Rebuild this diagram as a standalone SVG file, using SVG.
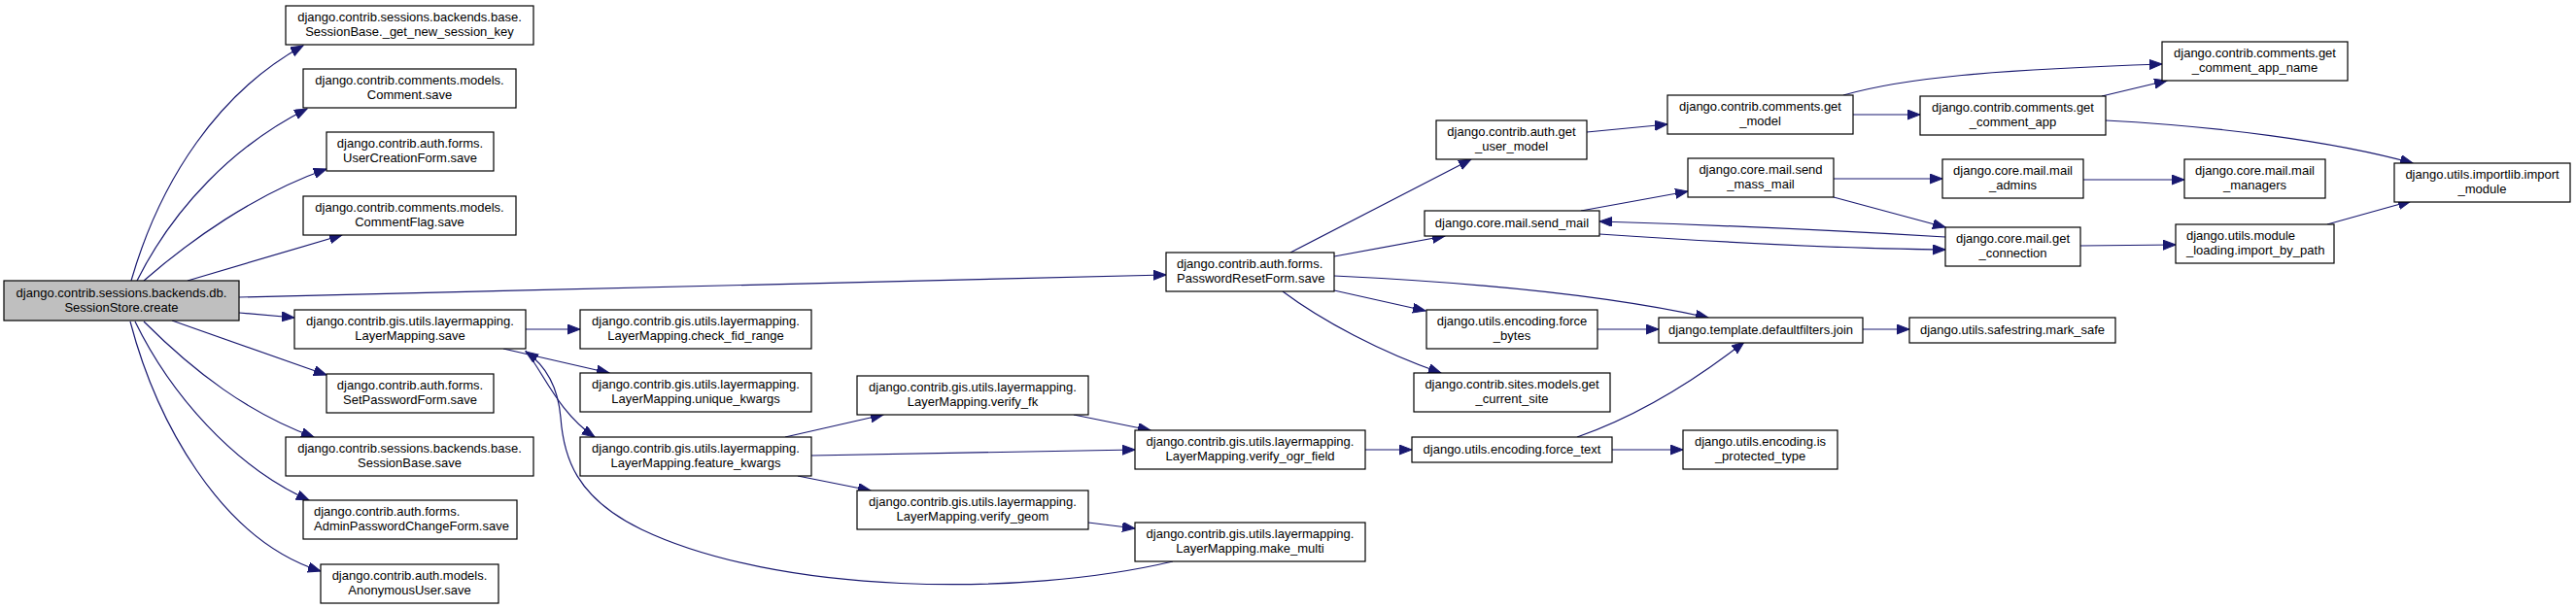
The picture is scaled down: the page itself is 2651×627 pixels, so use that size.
<svg xmlns="http://www.w3.org/2000/svg" width="2651" height="627" viewBox="0 0 2651 627">
<style>
.n rect{fill:#fff;stroke:#000;stroke-width:1.2}
.root rect{fill:#bfbfbf}
text{font-family:"Liberation Sans",Arial,sans-serif;font-size:13px;fill:#000}
.c{text-anchor:middle}
.e path{fill:none;stroke:#191970;stroke-width:1.2;marker-end:url(#ah)}
</style>
<defs>
<marker id="ah" markerUnits="userSpaceOnUse" markerWidth="14" markerHeight="11" refX="13" refY="5" orient="auto">
<path d="M0,0 L13,5 L0,10 z" fill="#191970" stroke="#191970" stroke-width="1"/>
</marker>
</defs>
<rect width="2651" height="627" fill="#fff"/>
<g class="e" id="edges">
<path d="M135,289 C165,185 225,95 312,47"/>
<path d="M141,289 C178,215 240,150 316,112"/>
<path d="M148,289 C195,248 262,200 336,174"/>
<path d="M193,289 L352,242"/>
<path d="M246,306 C600,296 900,288 1200,283"/>
<path d="M246,322 L303,327"/>
<path d="M177,330 L336,386"/>
<path d="M148,331 C200,383 255,425 323,450"/>
<path d="M139,331 C175,405 240,480 318,515"/>
<path d="M134,331 C160,430 225,555 330,588"/>
<path d="M541,339 L597,339"/>
<path d="M518,359 L627,384"/>
<path d="M541,361 C560,385 575,425 612,450"/>
<path d="M1207,578 C1050,615 800,612 660,545 C592,512 580,470 577,430 C574,395 560,375 541,362"/>
<path d="M808,450 L909,427"/>
<path d="M835,469 L1168,463"/>
<path d="M821,490 L896,505"/>
<path d="M1105,427 L1184,443"/>
<path d="M1120,538 L1168,544"/>
<path d="M1405,463 L1453,463"/>
<path d="M1328,260 L1514,164"/>
<path d="M1373,264 L1487,243"/>
<path d="M1373,284 C1500,290 1650,303 1758,327"/>
<path d="M1373,299 L1467,320"/>
<path d="M1320,300 C1360,330 1420,362 1483,384"/>
<path d="M1633,136 L1716,128"/>
<path d="M1907,118 L1976,118"/>
<path d="M1897,98 C1960,80 2050,72 2225,66"/>
<path d="M2163,99 L2230,83"/>
<path d="M2167,124 C2280,130 2400,145 2483,168"/>
<path d="M1627,217 L1737,197"/>
<path d="M1646,241 C1780,250 1900,256 2002,257"/>
<path d="M2002,244 C1900,238 1780,232 1646,228"/>
<path d="M1887,184 L1999,184"/>
<path d="M1887,203 L2002,234"/>
<path d="M2144,185 L2248,185"/>
<path d="M2141,253 L2239,252"/>
<path d="M2395,231 L2481,207"/>
<path d="M1644,339 L1707,339"/>
<path d="M1623,450 C1680,430 1740,395 1795,352"/>
<path d="M1659,463 L1732,463"/>
<path d="M1917,339 L1965,339"/>
</g>
<g class="n root" id="root"><rect x="4" y="289" width="242" height="41"/><text class="c" x="125" y="306">django.contrib.sessions.backends.db.</text><text class="c" x="125" y="321">SessionStore.create</text></g>
<g class="n" id="n_get_new_session_key"><rect x="294" y="6" width="255" height="40"/><text class="c" x="421.5" y="22">django.contrib.sessions.backends.base.</text><text class="c" x="421.5" y="37">SessionBase._get_new_session_key</text></g>
<g class="n" id="n_comment_save"><rect x="312" y="71" width="219" height="40"/><text class="c" x="421.5" y="87">django.contrib.comments.models.</text><text class="c" x="421.5" y="102">Comment.save</text></g>
<g class="n" id="n_usercreation"><rect x="336" y="136" width="172" height="40"/><text class="c" x="422" y="152">django.contrib.auth.forms.</text><text class="c" x="422" y="167">UserCreationForm.save</text></g>
<g class="n" id="n_commentflag"><rect x="312" y="202" width="219" height="40"/><text class="c" x="421.5" y="218">django.contrib.comments.models.</text><text class="c" x="421.5" y="233">CommentFlag.save</text></g>
<g class="n" id="n_lm_save"><rect x="303" y="319" width="238" height="40"/><text class="c" x="422" y="335">django.contrib.gis.utils.layermapping.</text><text class="c" x="422" y="350">LayerMapping.save</text></g>
<g class="n" id="n_setpassword"><rect x="336" y="385" width="172" height="40"/><text class="c" x="422" y="401">django.contrib.auth.forms.</text><text class="c" x="422" y="416">SetPasswordForm.save</text></g>
<g class="n" id="n_sessionbase_save"><rect x="294" y="450" width="255" height="40"/><text class="c" x="421.5" y="466">django.contrib.sessions.backends.base.</text><text class="c" x="421.5" y="481">SessionBase.save</text></g>
<g class="n" id="n_adminpassword"><rect x="312" y="515" width="220" height="40"/><text x="323" y="531">django.contrib.auth.forms.</text><text x="323" y="546">AdminPasswordChangeForm.save</text></g>
<g class="n" id="n_anonymous"><rect x="330" y="581" width="183" height="40"/><text class="c" x="421.5" y="597">django.contrib.auth.models.</text><text class="c" x="421.5" y="612">AnonymousUser.save</text></g>
<g class="n" id="n_check_fid_range"><rect x="597" y="319" width="238" height="40"/><text class="c" x="716" y="335">django.contrib.gis.utils.layermapping.</text><text class="c" x="716" y="350">LayerMapping.check_fid_range</text></g>
<g class="n" id="n_unique_kwargs"><rect x="597" y="384" width="238" height="40"/><text class="c" x="716" y="400">django.contrib.gis.utils.layermapping.</text><text class="c" x="716" y="415">LayerMapping.unique_kwargs</text></g>
<g class="n" id="n_feature_kwargs"><rect x="597" y="450" width="238" height="40"/><text class="c" x="716" y="466">django.contrib.gis.utils.layermapping.</text><text class="c" x="716" y="481">LayerMapping.feature_kwargs</text></g>
<g class="n" id="n_verify_fk"><rect x="882" y="387" width="238" height="40"/><text class="c" x="1001" y="403">django.contrib.gis.utils.layermapping.</text><text class="c" x="1001" y="418">LayerMapping.verify_fk</text></g>
<g class="n" id="n_verify_ogr_field"><rect x="1168" y="443" width="237" height="40"/><text class="c" x="1286.5" y="459">django.contrib.gis.utils.layermapping.</text><text class="c" x="1286.5" y="474">LayerMapping.verify_ogr_field</text></g>
<g class="n" id="n_verify_geom"><rect x="882" y="505" width="238" height="40"/><text class="c" x="1001" y="521">django.contrib.gis.utils.layermapping.</text><text class="c" x="1001" y="536">LayerMapping.verify_geom</text></g>
<g class="n" id="n_make_multi"><rect x="1168" y="538" width="237" height="40"/><text class="c" x="1286.5" y="554">django.contrib.gis.utils.layermapping.</text><text class="c" x="1286.5" y="569">LayerMapping.make_multi</text></g>
<g class="n" id="n_passwordreset"><rect x="1200" y="260" width="173" height="40"/><text x="1211" y="276">django.contrib.auth.forms.</text><text x="1211" y="291">PasswordResetForm.save</text></g>
<g class="n" id="n_get_user_model"><rect x="1478" y="124" width="155" height="40"/><text class="c" x="1555.5" y="140">django.contrib.auth.get</text><text class="c" x="1555.5" y="155">_user_model</text></g>
<g class="n" id="n_send_mail"><rect x="1466" y="217" width="180" height="26"/><text class="c" x="1556" y="234">django.core.mail.send_mail</text></g>
<g class="n" id="n_force_bytes"><rect x="1468" y="319" width="176" height="40"/><text class="c" x="1556" y="335">django.utils.encoding.force</text><text class="c" x="1556" y="350">_bytes</text></g>
<g class="n" id="n_get_current_site"><rect x="1455" y="384" width="202" height="40"/><text class="c" x="1556" y="400">django.contrib.sites.models.get</text><text class="c" x="1556" y="415">_current_site</text></g>
<g class="n" id="n_force_text"><rect x="1453" y="450" width="206" height="26"/><text class="c" x="1556" y="467">django.utils.encoding.force_text</text></g>
<g class="n" id="n_get_model"><rect x="1716" y="98" width="191" height="40"/><text class="c" x="1811.5" y="114">django.contrib.comments.get</text><text class="c" x="1811.5" y="129">_model</text></g>
<g class="n" id="n_send_mass_mail"><rect x="1737" y="163" width="150" height="40"/><text class="c" x="1812" y="179">django.core.mail.send</text><text class="c" x="1812" y="194">_mass_mail</text></g>
<g class="n" id="n_join"><rect x="1707" y="327" width="210" height="26"/><text class="c" x="1812" y="344">django.template.defaultfilters.join</text></g>
<g class="n" id="n_is_protected_type"><rect x="1732" y="443" width="159" height="40"/><text class="c" x="1811.5" y="459">django.utils.encoding.is</text><text class="c" x="1811.5" y="474">_protected_type</text></g>
<g class="n" id="n_get_comment_app"><rect x="1976" y="99" width="191" height="40"/><text class="c" x="2071.5" y="115">django.contrib.comments.get</text><text class="c" x="2071.5" y="130">_comment_app</text></g>
<g class="n" id="n_mail_admins"><rect x="1999" y="164" width="145" height="40"/><text class="c" x="2071.5" y="180">django.core.mail.mail</text><text class="c" x="2071.5" y="195">_admins</text></g>
<g class="n" id="n_get_connection"><rect x="2002" y="234" width="139" height="40"/><text class="c" x="2071.5" y="250">django.core.mail.get</text><text class="c" x="2071.5" y="265">_connection</text></g>
<g class="n" id="n_mark_safe"><rect x="1965" y="327" width="212" height="26"/><text class="c" x="2071" y="344">django.utils.safestring.mark_safe</text></g>
<g class="n" id="n_get_comment_app_name"><rect x="2225" y="43" width="191" height="40"/><text class="c" x="2320.5" y="59">django.contrib.comments.get</text><text class="c" x="2320.5" y="74">_comment_app_name</text></g>
<g class="n" id="n_mail_managers"><rect x="2248" y="164" width="145" height="40"/><text class="c" x="2320.5" y="180">django.core.mail.mail</text><text class="c" x="2320.5" y="195">_managers</text></g>
<g class="n" id="n_import_by_path"><rect x="2239" y="231" width="163" height="40"/><text x="2250" y="247">django.utils.module</text><text x="2250" y="262">_loading.import_by_path</text></g>
<g class="n" id="n_import_module"><rect x="2464" y="168" width="181" height="40"/><text class="c" x="2554.5" y="184">django.utils.importlib.import</text><text class="c" x="2554.5" y="199">_module</text></g>
</svg>
